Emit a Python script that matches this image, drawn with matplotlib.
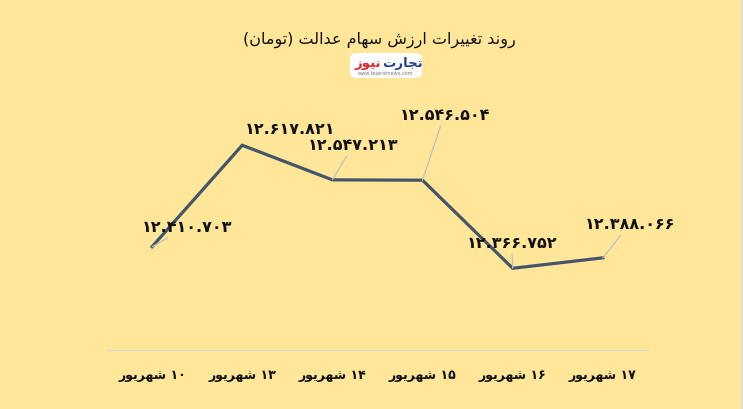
import matplotlib
matplotlib.use("Agg")
import matplotlib.pyplot as plt
from matplotlib.patches import FancyBboxPatch, Rectangle

# data
days = [10, 13, 14, 15, 16, 17]
month = "شهریور"
values = [12410703, 12617821, 12547213, 12546504, 12366752, 12388066]
title = "روند تغییرات ارزش سهام عدالت (تومان)"
logo_a = "تجارت"
logo_b = "نیوز"
logo_url = "www.tejaratnews.com"

# label offsets in pixels (label centre minus point)
offsets = [(35, 20), (48, 17), (21, 35), (22, 66), (-1, 26), (27, 34)]
callout = [True, False, True, True, True, True]

BG = "#FFE699"
LINE = "#44546A"

# arabic presentation forms: isolated, final, initial, medial
FORMS = {
    "ا": (0xFE8D, 0xFE8E, None, None),
    "ب": (0xFE8F, 0xFE90, 0xFE91, 0xFE92),
    "ت": (0xFE95, 0xFE96, 0xFE97, 0xFE98),
    "ج": (0xFE9D, 0xFE9E, 0xFE9F, 0xFEA0),
    "د": (0xFEA9, 0xFEAA, None, None),
    "ر": (0xFEAD, 0xFEAE, None, None),
    "ز": (0xFEAF, 0xFEB0, None, None),
    "س": (0xFEB1, 0xFEB2, 0xFEB3, 0xFEB4),
    "ش": (0xFEB5, 0xFEB6, 0xFEB7, 0xFEB8),
    "ع": (0xFEC9, 0xFECA, 0xFECB, 0xFECC),
    "غ": (0xFECD, 0xFECE, 0xFECF, 0xFED0),
    "ل": (0xFEDD, 0xFEDE, 0xFEDF, 0xFEE0),
    "م": (0xFEE1, 0xFEE2, 0xFEE3, 0xFEE4),
    "ن": (0xFEE5, 0xFEE6, 0xFEE7, 0xFEE8),
    "ه": (0xFEE9, 0xFEEA, 0xFEEB, 0xFEEC),
    "و": (0xFEED, 0xFEEE, None, None),
    "ی": (0xFBFC, 0xFBFD, 0xFBFE, 0xFBFF),
}
FA_DIGITS = str.maketrans("0123456789", "۰۱۲۳۴۵۶۷۸۹")


def shape(s):
    out = []
    for i, ch in enumerate(s):
        if ch not in FORMS:
            out.append(ch)
            continue
        prev = s[i - 1] if i > 0 else ""
        nxt = s[i + 1] if i + 1 < len(s) else ""
        jp = prev in FORMS and FORMS[prev][2] is not None
        jn = FORMS[ch][2] is not None and nxt in FORMS
        f = FORMS[ch]
        if jp and jn:
            out.append(chr(f[3]))
        elif jp:
            out.append(chr(f[1]))
        elif jn:
            out.append(chr(f[2]))
        else:
            out.append(chr(f[0]))
    # visual order: reverse, keep digit runs LTR, mirror brackets
    vis = out[::-1]
    res, run = [], []
    for ch in vis:
        if ch in "۰۱۲۳۴۵۶۷۸۹0123456789.":
            run.append(ch)
        else:
            res.extend(run[::-1])
            run = []
            res.append({"(": ")", ")": "("}.get(ch, ch))
    res.extend(run[::-1])
    return "".join(res)


plt.rcParams["font.family"] = ["DejaVu Sans"]

fig = plt.figure(figsize=(7.43, 4.10), dpi=100, facecolor=BG)
ax = fig.add_axes([0.144, 0.1439, 0.728, 0.5976], facecolor=BG)

x = list(range(len(values)))
ax.plot(x, values, color=LINE, lw=2.3, solid_joinstyle="miter")
ax.set_xlim(-0.5, len(values) - 0.5)
ax.set_ylim(12200000, 12700000)

for i, v in enumerate(values):
    lab = f"{v:,}".replace(",", ".").translate(FA_DIGITS)
    ap = dict(arrowstyle="-", color="#BFBFBF", lw=0.9, shrinkA=1, shrinkB=0) if callout[i] else None
    ax.annotate(lab, xy=(i, v), xytext=offsets[i], textcoords="offset pixels",
                ha="center", va="center", fontsize=11.5, fontweight="bold",
                color="#111111", arrowprops=ap)

ax.set_xticks(x)
ax.set_xticklabels([shape(f"{d} {month}".translate(FA_DIGITS)) for d in days],
                   fontsize=9, fontweight="bold", color="#111111")
ax.tick_params(axis="x", length=0, pad=13)
ax.set_yticks([])
for s in ["top", "right", "left"]:
    ax.spines[s].set_visible(False)
ax.spines["bottom"].set_color("#D9D9D9")
ax.spines["bottom"].set_linewidth(0.8)

fig.text(0.511, 1 - 40 / 410, shape(title), ha="center", va="center",
         fontsize=11.5, color="#111111")

# logo
box = FancyBboxPatch((350 / 743, 1 - 79 / 410), 72 / 743, 25 / 410,
                     boxstyle="round,pad=0,rounding_size=0.012",
                     transform=fig.transFigure, facecolor="white",
                     edgecolor="none")
fig.patches.append(box)
fig.text(381 / 743, 1 - 64 / 410, shape(logo_b), ha="right", va="center",
         fontsize=9.5, fontweight="bold", color="#E3262B")
fig.text(382 / 743, 1 - 64 / 410, shape(logo_a), ha="left", va="center",
         fontsize=9.5, fontweight="bold", color="#1F3F8F")
fig.text(386 / 743, 1 - 74 / 410, logo_url, ha="center", va="center",
         fontsize=3.6, color="#777777")

# thin grey strip at the right edge
fig.patches.append(Rectangle((741 / 743, 0), 2 / 743, 1, transform=fig.transFigure,
                             facecolor="#DCDCDC", edgecolor="none"))

fig.savefig("out.png", dpi=100, facecolor=BG)
